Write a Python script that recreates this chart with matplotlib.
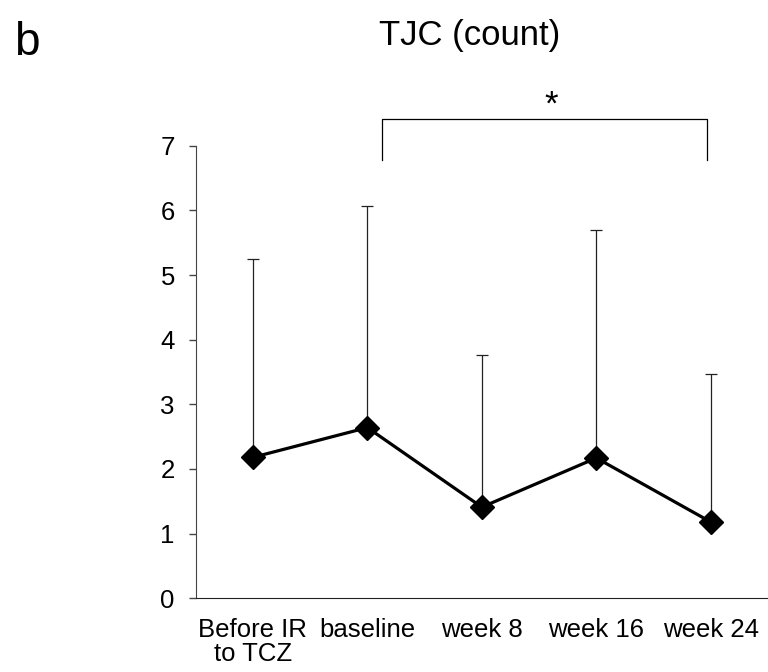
from matplotlib import pyplot as plt

# TJC (count): mean with upper SD bar at each time point
labels = ['Before IR\nto TCZ', 'baseline', 'week 8', 'week 16', 'week 24']
means = [2.18, 2.64, 1.41, 2.17, 1.18]
upper = [5.25, 6.07, 3.76, 5.69, 3.47]

plt.rcParams['font.family'] = ['Liberation Sans', 'DejaVu Sans']

x = list(range(len(labels)))
err = [u - m for u, m in zip(upper, means)]

fig = plt.figure(figsize=(7.68, 6.72), dpi=100)
ax = fig.add_axes([0.2548, 0.1097, 0.7452, 0.6735])

ax.errorbar(x, means, yerr=[[0] * len(err), err], fmt='none', ecolor='#222222',
            elinewidth=0.9, capsize=4.3, capthick=0.9, zorder=1)
ax.plot(x, means, color='black', lw=2.3, marker='D', markersize=12.5,
        markerfacecolor='black', markeredgecolor='black', zorder=2)

ax.set_xlim(-0.5, 4.5)
ax.set_ylim(0, 7)
ax.set_yticks(range(0, 8))
ax.set_xticks(x)
ax.set_xticklabels(labels, fontsize=18.5, linespacing=1.0)
ax.tick_params(axis='x', length=0, pad=14)
ax.tick_params(axis='y', length=5, width=1, color='#444444', labelsize=18.5, pad=10)

for s in ['top', 'right']:
    ax.spines[s].set_visible(False)
ax.spines['left'].set_color('#444444')
ax.spines['bottom'].set_color('#222222')

# significance bracket baseline vs week 24
ax.plot([1.132, 1.132, 3.967, 3.967], [6.78, 7.41, 7.41, 6.78], color='black',
        lw=0.9, clip_on=False)
ax.text(2.61, 7.48, '*', ha='center', va='baseline', fontsize=25, clip_on=False)

fig.text(470 / 768, 1 - 45 / 672, 'TJC (count)', ha='center', va='baseline', fontsize=25)
fig.text(14 / 768, 1 - 55 / 672, 'b', ha='left', va='baseline', fontsize=33)

plt.savefig('out.png', dpi=100)
